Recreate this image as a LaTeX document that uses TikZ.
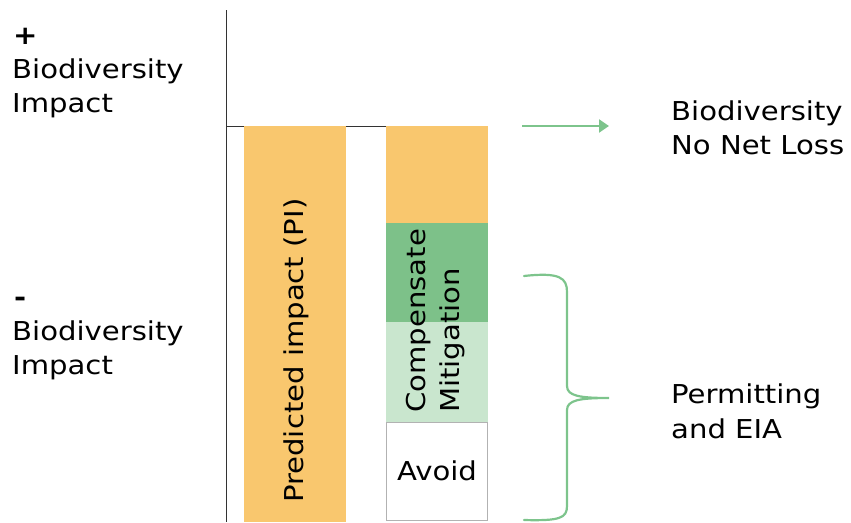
\documentclass[tikz,border=0pt]{standalone}
\usepackage{fontspec}
\setmainfont[FakeStretch=1.12]{DejaVu Sans}
\usetikzlibrary{arrows.meta}
\definecolor{barorange}{RGB}{249,199,110}
\definecolor{darkgreen}{RGB}{125,193,137}
\definecolor{lightgreen}{RGB}{201,230,206}
\definecolor{linegreen}{RGB}{125,196,140}
\tikzset{
  lbl/.style={font=\fontsize{26}{34}\selectfont, inner sep=0pt, align=left},
  ln/.style={lbl, anchor=base west},
  seg/.style={inner sep=0pt, outer sep=0pt, minimum width=102pt, anchor=north west},
}
\begin{document}
\begin{tikzpicture}[x=1pt,y=1pt]
\useasboundingbox (0,0) rectangle (851,-522);
% axes
\draw[line width=1pt, black!80] (226,-10) -- (226,-522);
\draw[line width=1pt, black!80] (226,-126) -- (488,-126);
% bar 1
\node[seg, fill=barorange, minimum height=396pt] (pi) at (244,-126) {};
\node[lbl, rotate=90, anchor=west] (pitext) at (296,-503) {Predicted impact (PI)};
% bar 2
\node[seg, fill=barorange, minimum height=97pt] (rest) at (386,-126) {};
\node[seg, fill=darkgreen, minimum height=99pt] (comp) at (386,-223) {};
\node[seg, fill=lightgreen, minimum height=100pt] (mitig) at (386,-322) {};
\node[seg, draw=black!30, line width=0.8pt, fill=white, minimum width=101pt, minimum height=98pt] (avoid) at (386.5,-422) {};
\node[lbl] (avoidtext) at (avoid.center) {Avoid};
\node[lbl, rotate=90, anchor=west] (cmtext) at (436,-413) {Compensate\\Mitigation};
% left labels
\node[ln] (plus) at (13,-44) {\textbf{+}};
\node[ln] (plusa) at (12,-78) {Biodiversity};
\node[ln] (plusb) at (12,-112) {Impact};
\node[ln] (minus) at (14,-306) {\textbf{-}};
\node[ln] (minusa) at (12,-340) {Biodiversity};
\node[ln] (minusb) at (12,-374) {Impact};
% right labels
\node[ln] (nnla) at (671,-120) {Biodiversity};
\node[ln] (nnlb) at (671,-154) {No Net Loss};
\node[ln] (eiaa) at (671,-403) {Permitting};
\node[ln] (eiab) at (671,-438) {and EIA};
% arrow
\coordinate (as) at (522,-126);
\coordinate (ae) at (609,-126);
\draw[linegreen, line width=2.2pt, -{Triangle[length=10pt,width=13pt]}] (as) -- (ae);
% brace
\coordinate (btop) at (524,-276);
\coordinate (btip) at (609,-398);
\coordinate (bbot) at (524,-520);
\draw[linegreen, line width=2.2pt, line cap=round]
  (btop) .. controls (560,-272) and (567,-278) .. (567,-292) -- (567,-386)
  .. controls (567,-396) and (580,-398) .. (btip)
  .. controls (580,-398) and (567,-400) .. (567,-410) -- (567,-506)
  .. controls (567,-518) and (560,-521) .. (bbot);
\end{tikzpicture}
\end{document}
